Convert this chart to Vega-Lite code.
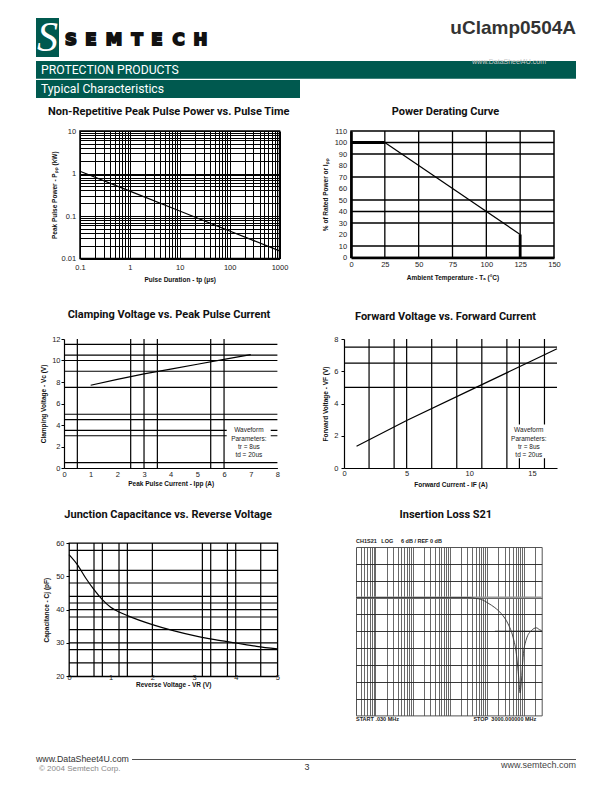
{
  "$schema": "https://vega.github.io/schema/vega-lite/v6.json",
  "padding": {"left": 36, "top": 17, "right": 36, "bottom": 10},
  "background": "white",
  "bounds": "flush",
  "spacing": 0,
  "datasets": {
    "hdrBars": [{"x1": 0, "x2": 23, "y1": 0, "y2": 39}, {"x1": 0, "x2": 540, "y1": 43, "y2": 60.7}, {"x1": 0, "x2": 264, "y1": 62, "y2": 80}],
    "hdrS": [{"x": 11.5, "y": 20, "t": "S"}],
    "hdrLogo": [{"x": 35, "y": 27, "t": "S"}, {"x": 55, "y": 27, "t": "E"}, {"x": 78, "y": 27, "t": "M"}, {"x": 101, "y": 27, "t": "T"}, {"x": 121, "y": 27, "t": "E"}, {"x": 142.5, "y": 27, "t": "C"}, {"x": 164.5, "y": 27, "t": "H"}],
    "hdrPart": [{"x": 540, "y": 15.7, "t": "uClamp0504A"}],
    "hdrBarText": [{"x": 5, "y": 56.3, "t": "PROTECTION PRODUCTS"}, {"x": 5, "y": 75.3, "t": "Typical Characteristics"}],
    "hdrWm": [{"x": 473, "y": 45.5, "t": "www.DataSheet4U.com"}],
    "ftRule": [{"x1": 96, "x2": 540, "y": 11.5}],
    "ftDs": [{"x": 0, "y": 13.8, "t": "www.DataSheet4U.com"}],
    "ftCopy": [{"x": 3, "y": 22.8, "t": "© 2004 Semtech Corp."}],
    "ftPage": [{"x": 271, "y": 22, "t": "3"}],
    "ftUrl": [{"x": 540, "y": 20, "t": "www.semtech.com"}],
    "c1": [{"t": 0.1, "p": 1.13}, {"t": 1, "p": 0.385}, {"t": 10, "p": 0.131}, {"t": 100, "p": 0.0445}, {"t": 1000, "p": 0.0151}],
    "c2gx": [{"v": 25}, {"v": 50}, {"v": 75}, {"v": 100}, {"v": 125}],
    "c2gy": [{"v": 10}, {"v": 30}, {"v": 40}, {"v": 50}, {"v": 70}, {"v": 90}, {"v": 100}],
    "c2thin": [{"t": 25, "p": 100}, {"t": 125, "p": 20}],
    "c2thick": [{"t": 0, "p": 100, "s": "a"}, {"t": 25, "p": 100, "s": "a"}, {"t": 125, "p": 20, "s": "b"}, {"t": 125, "p": 0, "s": "b"}],
    "c3": [{"i": 1, "v": 7.7}, {"i": 2, "v": 8.25}, {"i": 3, "v": 8.75}, {"i": 4, "v": 9.2}, {"i": 5, "v": 9.65}, {"i": 6, "v": 10.1}, {"i": 7, "v": 10.55}],
    "c3gx": [{"v": 0.5}, {"v": 2.5}, {"v": 3}, {"v": 3.5}, {"v": 5.5}, {"v": 6}],
    "c3gy": [{"v": 0.5}, {"v": 3}, {"v": 3.5}, {"v": 4.5}, {"v": 5}, {"v": 7.5}, {"v": 9}, {"v": 10}, {"v": 10.5}, {"v": 11.5}],
    "c3box": [{"x1": 6.1, "x2": 7.75, "y1": 0.8, "y2": 4.2}],
    "c3note": [{"x": 6.93, "y": 3.5, "t": "Waveform\nParameters:\ntr = 8us\ntd = 20us"}],
    "c4": [{"i": 1, "v": 1.35}, {"i": 5, "v": 2.95}, {"i": 10, "v": 4.8}, {"i": 15, "v": 6.65}, {"i": 17, "v": 7.4}],
    "c4gx": [{"v": 2}, {"v": 4}, {"v": 5}, {"v": 7}, {"v": 9}, {"v": 11}, {"v": 13}, {"v": 14}, {"v": 16}],
    "c4gy": [{"v": 5}, {"v": 6.5}, {"v": 7.5}],
    "c4box": [{"x1": 13.5, "x2": 16.3, "y1": 0.6, "y2": 2.7}],
    "c4note": [{"x": 14.75, "y": 2.33, "t": "Waveform\nParameters:\ntr = 8us\ntd = 20us"}],
    "c5": [{"r": 0, "c": 56.5}, {"r": 0.2, "c": 53.5}, {"r": 0.4, "c": 49.5}, {"r": 0.6, "c": 46}, {"r": 0.8, "c": 43}, {"r": 1, "c": 40.7}, {"r": 1.2, "c": 39.3}, {"r": 1.4, "c": 38.2}, {"r": 2, "c": 35.5}, {"r": 2.5, "c": 33.7}, {"r": 3, "c": 32.2}, {"r": 3.5, "c": 31}, {"r": 4, "c": 30}, {"r": 4.5, "c": 29}, {"r": 5, "c": 28.2}],
    "c5gx": [{"v": 0.2}, {"v": 0.6}, {"v": 0.8}, {"v": 1.2}, {"v": 1.4}, {"v": 2}, {"v": 3.2}, {"v": 3.4}, {"v": 3.8}, {"v": 4}, {"v": 4.6}],
    "c5gy": [{"v": 24}, {"v": 28}, {"v": 30}, {"v": 34}, {"v": 37.8}, {"v": 40}, {"v": 42}, {"v": 44}, {"v": 48}, {"v": 51.8}, {"v": 57.8}],
    "c6": [{"f": 0.03, "db": 0}, {"f": 1, "db": 0}, {"f": 10, "db": 0}, {"f": 31, "db": 0}, {"f": 50, "db": -0.3}, {"f": 72, "db": -0.7}, {"f": 108, "db": -2}, {"f": 164, "db": -3.6}, {"f": 247, "db": -5.8}, {"f": 373, "db": -9.4}, {"f": 509, "db": -14.2}, {"f": 625, "db": -20.2}, {"f": 723, "db": -28.6}, {"f": 785, "db": -34}, {"f": 851, "db": -29.8}, {"f": 944, "db": -21.4}, {"f": 1162, "db": -14.8}, {"f": 1581, "db": -11.8}, {"f": 2154, "db": -10.8}, {"f": 2651, "db": -11.5}, {"f": 3000, "db": -11.8}],
    "c6ref": [{"f1": 0.03, "f2": 3000, "db": 0}],
    "c6mk": [{"f1": 165, "f2": 3000, "db": -12}],
    "c6top": [{"f": 0.03, "db": 18, "t": "CH1S21\u00a0\u00a0\u00a0LOG\u00a0\u00a0\u00a0\u00a0\u00a06 dB / REF 0 dB"}],
    "c6bot": [{"f": 0.03, "db": -42, "t": "START .030 MHz"}, {"f": 43.5, "db": -42, "t": "STOP\u00a0\u00a03000.000000 MHz"}]
  },
  "vconcat": [
    {
      "width": 540, "height": 80,
      "layer": [
        {"data": {"name": "hdrBars"}, "mark": {"type": "rect", "color": "#00594f"},
         "encoding": {"x": {"field": "x1", "type": "quantitative", "scale": {"domain": [0, 540], "nice": false, "zero": false}, "axis": null}, "x2": {"field": "x2"},
                      "y": {"field": "y1", "type": "quantitative", "scale": {"domain": [0, 80], "reverse": true, "nice": false, "zero": false}, "axis": null}, "y2": {"field": "y2"}}},
        {"data": {"name": "hdrS"}, "mark": {"type": "text", "color": "white", "font": "Liberation Serif", "fontStyle": "italic", "fontSize": 42, "align": "center", "baseline": "middle"},
         "encoding": {"x": {"field": "x", "type": "quantitative", "scale": {"domain": [0, 540], "nice": false, "zero": false}, "axis": null}, "y": {"field": "y", "type": "quantitative", "scale": {"domain": [0, 80], "reverse": true, "nice": false, "zero": false}, "axis": null}, "text": {"field": "t"}}},
        {"data": {"name": "hdrLogo"}, "mark": {"type": "text", "color": "#111", "stroke": "#111", "strokeWidth": 1.9, "font": "DejaVu Sans", "fontWeight": "bold", "fontSize": 16.5, "align": "center", "baseline": "alphabetic"},
         "encoding": {"x": {"field": "x", "type": "quantitative", "scale": {"domain": [0, 540], "nice": false, "zero": false}, "axis": null}, "y": {"field": "y", "type": "quantitative", "scale": {"domain": [0, 80], "reverse": true, "nice": false, "zero": false}, "axis": null}, "text": {"field": "t"}}},
        {"data": {"name": "hdrPart"}, "mark": {"type": "text", "color": "#333", "font": "Liberation Sans", "fontWeight": "bold", "fontSize": 19, "align": "right", "baseline": "alphabetic"},
         "encoding": {"x": {"field": "x", "type": "quantitative", "scale": {"domain": [0, 540], "nice": false, "zero": false}, "axis": null}, "y": {"field": "y", "type": "quantitative", "scale": {"domain": [0, 80], "reverse": true, "nice": false, "zero": false}, "axis": null}, "text": {"field": "t"}}},
        {"data": {"name": "hdrBarText"}, "mark": {"type": "text", "color": "white", "font": "Roboto", "fontSize": 12.2, "align": "left", "baseline": "alphabetic"},
         "encoding": {"x": {"field": "x", "type": "quantitative", "scale": {"domain": [0, 540], "nice": false, "zero": false}, "axis": null}, "y": {"field": "y", "type": "quantitative", "scale": {"domain": [0, 80], "reverse": true, "nice": false, "zero": false}, "axis": null}, "text": {"field": "t"}}},
        {"data": {"name": "hdrWm"}, "mark": {"type": "text", "color": "#c8c8c8", "font": "Liberation Sans", "fontSize": 7, "align": "center", "baseline": "alphabetic"},
         "encoding": {"x": {"field": "x", "type": "quantitative", "scale": {"domain": [0, 540], "nice": false, "zero": false}, "axis": null}, "y": {"field": "y", "type": "quantitative", "scale": {"domain": [0, 80], "reverse": true, "nice": false, "zero": false}, "axis": null}, "text": {"field": "t"}}}
      ]
    },
    {"width": 1, "height": 32.5, "data": {"values": []}, "mark": "point"},
    {
      "hconcat": [
        {"width": 43.5, "height": 1, "data": {"values": []}, "mark": "point"},
        {
          "width": 199.5, "height": 127.5,
          "view": {"stroke": "black", "strokeWidth": 1.5},
          "title": {"text": "Non-Repetitive Peak Pulse Power vs. Pulse Time", "frame": "group", "anchor": "middle", "baseline": "alphabetic", "dx": -11, "offset": 1.5},
          "data": {"name": "c1"},
          "mark": {"type": "line", "color": "black", "strokeWidth": 1.2},
          "encoding": {
            "x": {"field": "t", "type": "quantitative", "scale": {"type": "log", "domain": [0.1, 1000], "nice": false},
                  "axis": {"title": "Pulse Duration - tp (μs)", "tickCount": 1000, "values": [0.1,0.2,0.3,0.4,0.5,0.6,0.7,0.8,0.9,1,2,3,4,5,6,7,8,9,10,20,30,40,50,60,70,80,90,100,200,300,400,500,600,700,800,900,1000], "format": "~g", "labelExpr": "indexof([0.1,1,10,100,1000], datum.value) >= 0 ? datum.label : ''", "grid": true, "gridColor": "black", "gridWidth": 1, "labelPadding": 5, "titlePadding": 5.4}},
            "y": {"field": "p", "type": "quantitative", "scale": {"type": "log", "domain": [0.01, 10], "nice": false},
                  "axis": {"title": "Peak Pulse Power - Pₚₚ (kW)", "tickCount": 1000, "values": [0.01,0.02,0.03,0.04,0.05,0.06,0.07,0.08,0.09,0.1,0.2,0.3,0.4,0.5,0.6,0.7,0.8,0.9,1,2,3,4,5,6,7,8,9,10], "format": "~g", "labelExpr": "indexof([0.01,0.1,1,10], datum.value) >= 0 ? datum.label : ''", "grid": true, "gridColor": "black", "gridWidth": 1, "labelPadding": 4.3, "titlePadding": 4}}
          }
        },
        {"width": 70.3, "height": 1, "data": {"values": []}, "mark": "point"},
        {
          "width": 203, "height": 126.5,
          "view": {"stroke": "black", "strokeWidth": 1.5},
          "title": {"text": "Power Derating Curve", "frame": "group", "anchor": "middle", "baseline": "alphabetic", "dx": -7, "offset": 1.4},
          "layer": [
            {"data": {"name": "c2gx"}, "mark": {"type": "rule", "color": "black", "strokeWidth": 1.3},
             "encoding": {"x": {"field": "v", "type": "quantitative", "scale": {"domain": [0, 150], "nice": false, "zero": false},
                     "axis": {"title": "Ambient Temperature - Tₐ (°C)", "format": "~g", "tickCount": 1000, "values": [0, 25, 50, 75, 100, 125, 150], "domain": true, "domainColor": "black", "domainWidth": 2.6, "labelPadding": 3.4, "titlePadding": 5.9}}}},
            {"data": {"name": "c2gy"}, "mark": {"type": "rule", "color": "black", "strokeWidth": 1.3},
             "encoding": {"y": {"field": "v", "type": "quantitative", "scale": {"domain": [0, 110], "nice": false, "zero": false},
                     "axis": {"title": "% of Rated Power or Iₚₚ", "format": "~g", "tickCount": 1000, "values": [0, 10, 20, 30, 40, 50, 60, 70, 80, 90, 100, 110], "domain": true, "domainColor": "black", "domainWidth": 2.6, "labelPadding": 4.3, "titlePadding": 5.2}}}},
            {"data": {"name": "c2thin"}, "mark": {"type": "line", "color": "black", "strokeWidth": 1.2},
             "encoding": {
               "x": {"field": "t", "type": "quantitative", "scale": {"domain": [0, 150], "nice": false, "zero": false}},
               "y": {"field": "p", "type": "quantitative", "scale": {"domain": [0, 110], "nice": false, "zero": false}}}},
            {"data": {"name": "c2thick"}, "mark": {"type": "line", "color": "black", "strokeWidth": 2.8},
             "encoding": {
               "x": {"field": "t", "type": "quantitative", "scale": {"domain": [0, 150], "nice": false, "zero": false}},
               "y": {"field": "p", "type": "quantitative", "scale": {"domain": [0, 110], "nice": false, "zero": false}},
               "detail": {"field": "s", "type": "nominal"}}}
          ]
        }
      ],
      "spacing": 0, "bounds": "flush"
    },
    {"width": 1, "height": 207.2, "data": {"values": []}, "mark": "point"},
    {
      "hconcat": [
        {"width": 27.3, "height": 1, "data": {"values": []}, "mark": "point"},
        {
          "width": 213.4, "height": 129,
          "title": {"text": "Clamping Voltage vs. Peak Pulse Current", "frame": "group", "anchor": "middle", "baseline": "alphabetic", "dx": -1.7, "offset": 6.2},
          "layer": [
            {"data": {"name": "c3gx"}, "mark": {"type": "rule", "color": "black", "strokeWidth": 1.2},
             "encoding": {"x": {"field": "v", "type": "quantitative", "scale": {"domain": [0, 8], "nice": false, "zero": false},
                     "axis": {"title": "Peak Pulse Current - Ipp (A)", "format": "~g", "tickCount": 1000, "values": [0, 1, 2, 3, 4, 5, 6, 7, 8], "domain": true, "domainColor": "black", "domainWidth": 1.2, "labelPadding": 2.1, "titlePadding": 2.9}}}},
            {"data": {"name": "c3gy"}, "mark": {"type": "rule", "color": "black", "strokeWidth": 1.2},
             "encoding": {"y": {"field": "v", "type": "quantitative", "scale": {"domain": [0, 12], "nice": false, "zero": false},
                     "axis": {"title": "Clamping Voltage - Vc (V)", "format": "~g", "tickCount": 1000, "values": [0, 2, 4, 6, 8, 10, 12], "domain": true, "domainColor": "black", "domainWidth": 1.2, "ticks": true, "tickSize": 3, "tickColor": "black", "labelPadding": 1, "titlePadding": 5}}}},
            {"data": {"name": "c3box"}, "mark": {"type": "rect", "color": "white"},
             "encoding": {"x": {"field": "x1", "type": "quantitative", "scale": {"domain": [0, 8], "nice": false, "zero": false}}, "x2": {"field": "x2"},
                          "y": {"field": "y1", "type": "quantitative", "scale": {"domain": [0, 12], "nice": false, "zero": false}}, "y2": {"field": "y2"}}},
            {"data": {"name": "c3"}, "mark": {"type": "line", "color": "black", "strokeWidth": 1.2},
             "encoding": {
               "x": {"field": "i", "type": "quantitative", "scale": {"domain": [0, 8], "nice": false, "zero": false}},
               "y": {"field": "v", "type": "quantitative", "scale": {"domain": [0, 12], "nice": false, "zero": false}}}},
            {"data": {"name": "c3note"}, "mark": {"type": "text", "font": "Liberation Sans", "fontSize": 6.5, "lineBreak": "\n", "lineHeight": 8.3, "align": "center", "baseline": "middle", "color": "#222"},
             "encoding": {"x": {"field": "x", "type": "quantitative", "scale": {"domain": [0, 8], "nice": false, "zero": false}}, "y": {"field": "y", "type": "quantitative", "scale": {"domain": [0, 12], "nice": false, "zero": false}}, "text": {"field": "t"}}}
          ]
        },
        {"width": 66, "height": 1, "data": {"values": []}, "mark": "point"},
        {
          "width": 213, "height": 129,
          "title": {"text": "Forward Voltage vs. Forward Current", "frame": "group", "anchor": "middle", "baseline": "alphabetic", "dx": -5, "offset": 4.1},
          "layer": [
            {"data": {"name": "c4gx"}, "mark": {"type": "rule", "color": "black", "strokeWidth": 1.2},
             "encoding": {"x": {"field": "v", "type": "quantitative", "scale": {"domain": [0, 17], "nice": false, "zero": false},
                     "axis": {"title": "Forward Current - IF (A)", "format": "~g", "tickCount": 1000, "values": [0, 5, 10, 15], "domain": true, "domainColor": "black", "domainWidth": 1.2, "labelPadding": 1.6, "titlePadding": 4.2}}}},
            {"data": {"name": "c4gy"}, "mark": {"type": "rule", "color": "black", "strokeWidth": 1.2},
             "encoding": {"y": {"field": "v", "type": "quantitative", "scale": {"domain": [0, 8], "nice": false, "zero": false},
                     "axis": {"title": "Forward Voltage - VF (V)", "format": "~g", "tickCount": 1000, "values": [0, 2, 4, 6, 8], "domain": true, "domainColor": "black", "domainWidth": 1.2, "ticks": true, "tickSize": 3, "tickColor": "black", "labelPadding": 3, "titlePadding": 5}}}},
            {"data": {"name": "c4box"}, "mark": {"type": "rect", "color": "white"},
             "encoding": {"x": {"field": "x1", "type": "quantitative", "scale": {"domain": [0, 17], "nice": false, "zero": false}}, "x2": {"field": "x2"},
                          "y": {"field": "y1", "type": "quantitative", "scale": {"domain": [0, 8], "nice": false, "zero": false}}, "y2": {"field": "y2"}}},
            {"data": {"name": "c4"}, "mark": {"type": "line", "color": "black", "strokeWidth": 1.2},
             "encoding": {
               "x": {"field": "i", "type": "quantitative", "scale": {"domain": [0, 17], "nice": false, "zero": false}},
               "y": {"field": "v", "type": "quantitative", "scale": {"domain": [0, 8], "nice": false, "zero": false}}}},
            {"data": {"name": "c4note"}, "mark": {"type": "text", "font": "Liberation Sans", "fontSize": 6.5, "lineBreak": "\n", "lineHeight": 8.3, "align": "center", "baseline": "middle", "color": "#222"},
             "encoding": {"x": {"field": "x", "type": "quantitative", "scale": {"domain": [0, 17], "nice": false, "zero": false}}, "y": {"field": "y", "type": "quantitative", "scale": {"domain": [0, 8], "nice": false, "zero": false}}, "text": {"field": "t"}}}
          ]
        }
      ],
      "spacing": 0, "bounds": "flush"
    },
    {"width": 1, "height": 203.3, "data": {"values": []}, "mark": "point"},
    {
      "hconcat": [
        {"width": 32.3, "height": 1, "data": {"values": []}, "mark": "point"},
        {
          "width": 208.4, "height": 133.3,
          "view": {"stroke": "black", "strokeWidth": 1.3},
          "title": {"text": "Junction Capacitance vs. Reverse Voltage", "frame": "group", "anchor": "middle", "baseline": "alphabetic", "dx": -5, "offset": 10.5},
          "layer": [
            {"data": {"name": "c5gx"}, "mark": {"type": "rule", "color": "black", "strokeWidth": 1.2},
             "encoding": {"x": {"field": "v", "type": "quantitative", "scale": {"domain": [0, 5], "nice": false, "zero": false},
                     "axis": {"title": "Reverse Voltage - VR (V)", "format": "~g", "tickCount": 1000, "values": [0, 1, 2, 3, 4, 5], "labelPadding": -2.6, "titlePadding": 0.3}}}},
            {"data": {"name": "c5gy"}, "mark": {"type": "rule", "color": "black", "strokeWidth": 1.2},
             "encoding": {"y": {"field": "v", "type": "quantitative", "scale": {"domain": [20, 60], "nice": false, "zero": false},
                     "axis": {"title": "Capacitance - Cj (pF)", "format": "~g", "tickCount": 1000, "values": [20, 30, 40, 50, 60], "ticks": true, "tickSize": 3, "tickColor": "black", "labelPadding": 2, "titlePadding": 6.5}}}},
            {"data": {"name": "c5"}, "mark": {"type": "line", "color": "black", "strokeWidth": 1.2, "interpolate": "monotone"},
             "encoding": {
               "x": {"field": "r", "type": "quantitative", "scale": {"domain": [0, 5], "nice": false, "zero": false}},
               "y": {"field": "c", "type": "quantitative", "scale": {"domain": [20, 60], "nice": false, "zero": false}}}}
          ]
        },
        {"width": 77.6, "height": 1, "data": {"values": []}, "mark": "point"},
        {
          "vconcat": [
            {"width": 1, "height": 3.3, "data": {"values": []}, "mark": "point"},
            {
              "width": 185.7, "height": 168.4,
              "view": {"stroke": "#555", "strokeWidth": 1},
              "title": {"text": "Insertion Loss S21", "frame": "group", "anchor": "middle", "baseline": "alphabetic", "dx": -3, "offset": 10.5},
              "layer": [
                {"data": {"name": "c6ref"}, "mark": {"type": "rule", "color": "#9a9a9a", "strokeWidth": 2.2},
                 "encoding": {
                   "x": {"field": "f1", "type": "quantitative", "scale": {"type": "log", "domain": [0.03, 3000], "nice": false},
                         "axis": {"title": null, "labels": false, "tickCount": 1000, "values": [0.04,0.05,0.06,0.07,0.08,0.09,0.1,0.2,0.3,0.4,0.5,0.6,0.7,0.8,0.9,1,2,3,4,5,6,7,8,9,10,20,30,40,50,60,70,80,90,100,200,300,400,500,600,700,800,900,1000,2000], "grid": true, "gridColor": "#444", "gridWidth": 0.8}},
                   "x2": {"field": "f2"},
                   "y": {"field": "db", "type": "quantitative", "scale": {"domain": [-42, 18], "nice": false, "zero": false},
                         "axis": {"title": null, "labels": false, "tickCount": 1000, "values": [-36, -30, -24, -18, -12, -6, 0, 6, 12], "grid": true, "gridColor": "#222", "gridWidth": 0.9}}}},
                {"data": {"name": "c6mk"}, "mark": {"type": "rule", "color": "#222", "strokeWidth": 0.9},
                 "encoding": {"x": {"field": "f1", "type": "quantitative", "scale": {"type": "log", "domain": [0.03, 3000], "nice": false}}, "x2": {"field": "f2"},
                              "y": {"field": "db", "type": "quantitative", "scale": {"domain": [-42, 18], "nice": false, "zero": false}}}},
                {"data": {"name": "c6"}, "mark": {"type": "line", "color": "#333", "strokeWidth": 0.9, "interpolate": "monotone"},
                 "encoding": {"x": {"field": "f", "type": "quantitative", "scale": {"type": "log", "domain": [0.03, 3000], "nice": false}},
                              "y": {"field": "db", "type": "quantitative", "scale": {"domain": [-42, 18], "nice": false, "zero": false}}}},
                {"data": {"name": "c6top"}, "mark": {"type": "text", "font": "Liberation Sans", "fontWeight": "bold", "fontSize": 5.5, "align": "left", "baseline": "alphabetic", "dy": -3.6, "color": "#222"},
                 "encoding": {"x": {"field": "f", "type": "quantitative", "scale": {"type": "log", "domain": [0.03, 3000], "nice": false}},
                              "y": {"field": "db", "type": "quantitative", "scale": {"domain": [-42, 18], "nice": false, "zero": false}}, "text": {"field": "t"}}},
                {"data": {"name": "c6bot"}, "mark": {"type": "text", "font": "Liberation Sans", "fontWeight": "bold", "fontSize": 5.5, "align": "left", "baseline": "top", "dy": 1.5, "color": "#222"},
                 "encoding": {"x": {"field": "f", "type": "quantitative", "scale": {"type": "log", "domain": [0.03, 3000], "nice": false}},
                              "y": {"field": "db", "type": "quantitative", "scale": {"domain": [-42, 18], "nice": false, "zero": false}}, "text": {"field": "t"}}}
              ]
            }
          ],
          "spacing": 0, "bounds": "flush"
        }
      ],
      "spacing": 0, "bounds": "flush"
    },
    {"width": 1, "height": 205, "data": {"values": []}, "mark": "point"},
    {
      "width": 540, "height": 25,
      "layer": [
        {"data": {"name": "ftRule"}, "mark": {"type": "rule", "color": "#222", "strokeWidth": 0.8},
         "encoding": {"x": {"field": "x1", "type": "quantitative", "scale": {"domain": [0, 540], "nice": false, "zero": false}, "axis": null}, "x2": {"field": "x2"},
                      "y": {"field": "y", "type": "quantitative", "scale": {"domain": [0, 25], "reverse": true, "nice": false, "zero": false}, "axis": null}}},
        {"data": {"name": "ftDs"}, "mark": {"type": "text", "color": "#333", "font": "Liberation Sans", "fontSize": 8.8, "align": "left", "baseline": "alphabetic"},
         "encoding": {"x": {"field": "x", "type": "quantitative", "scale": {"domain": [0, 540], "nice": false, "zero": false}, "axis": null}, "y": {"field": "y", "type": "quantitative", "scale": {"domain": [0, 25], "reverse": true, "nice": false, "zero": false}, "axis": null}, "text": {"field": "t"}}},
        {"data": {"name": "ftCopy"}, "mark": {"type": "text", "color": "#888", "font": "Liberation Sans", "fontSize": 8, "align": "left", "baseline": "alphabetic"},
         "encoding": {"x": {"field": "x", "type": "quantitative", "scale": {"domain": [0, 540], "nice": false, "zero": false}, "axis": null}, "y": {"field": "y", "type": "quantitative", "scale": {"domain": [0, 25], "reverse": true, "nice": false, "zero": false}, "axis": null}, "text": {"field": "t"}}},
        {"data": {"name": "ftPage"}, "mark": {"type": "text", "color": "#333", "font": "Liberation Sans", "fontSize": 9, "align": "center", "baseline": "alphabetic"},
         "encoding": {"x": {"field": "x", "type": "quantitative", "scale": {"domain": [0, 540], "nice": false, "zero": false}, "axis": null}, "y": {"field": "y", "type": "quantitative", "scale": {"domain": [0, 25], "reverse": true, "nice": false, "zero": false}, "axis": null}, "text": {"field": "t"}}},
        {"data": {"name": "ftUrl"}, "mark": {"type": "text", "color": "#444", "font": "Liberation Sans", "fontSize": 9, "align": "right", "baseline": "alphabetic"},
         "encoding": {"x": {"field": "x", "type": "quantitative", "scale": {"domain": [0, 540], "nice": false, "zero": false}, "axis": null}, "y": {"field": "y", "type": "quantitative", "scale": {"domain": [0, 25], "reverse": true, "nice": false, "zero": false}, "axis": null}, "text": {"field": "t"}}}
      ]
    }
  ],
  "config": {
    "view": {"stroke": null},
    "axis": {"labelFont": "Liberation Sans", "labelFontSize": 7.5, "labelColor": "#222", "titleFont": "Liberation Sans", "titleFontSize": 6.5, "titleFontWeight": "bold", "titleColor": "#111", "grid": false, "ticks": false, "domain": false, "labelFlush": false, "labelOverlap": false, "labelBound": false},
    "title": {"font": "Roboto", "fontSize": 11, "fontWeight": "bold", "color": "#111"}
  }
}
